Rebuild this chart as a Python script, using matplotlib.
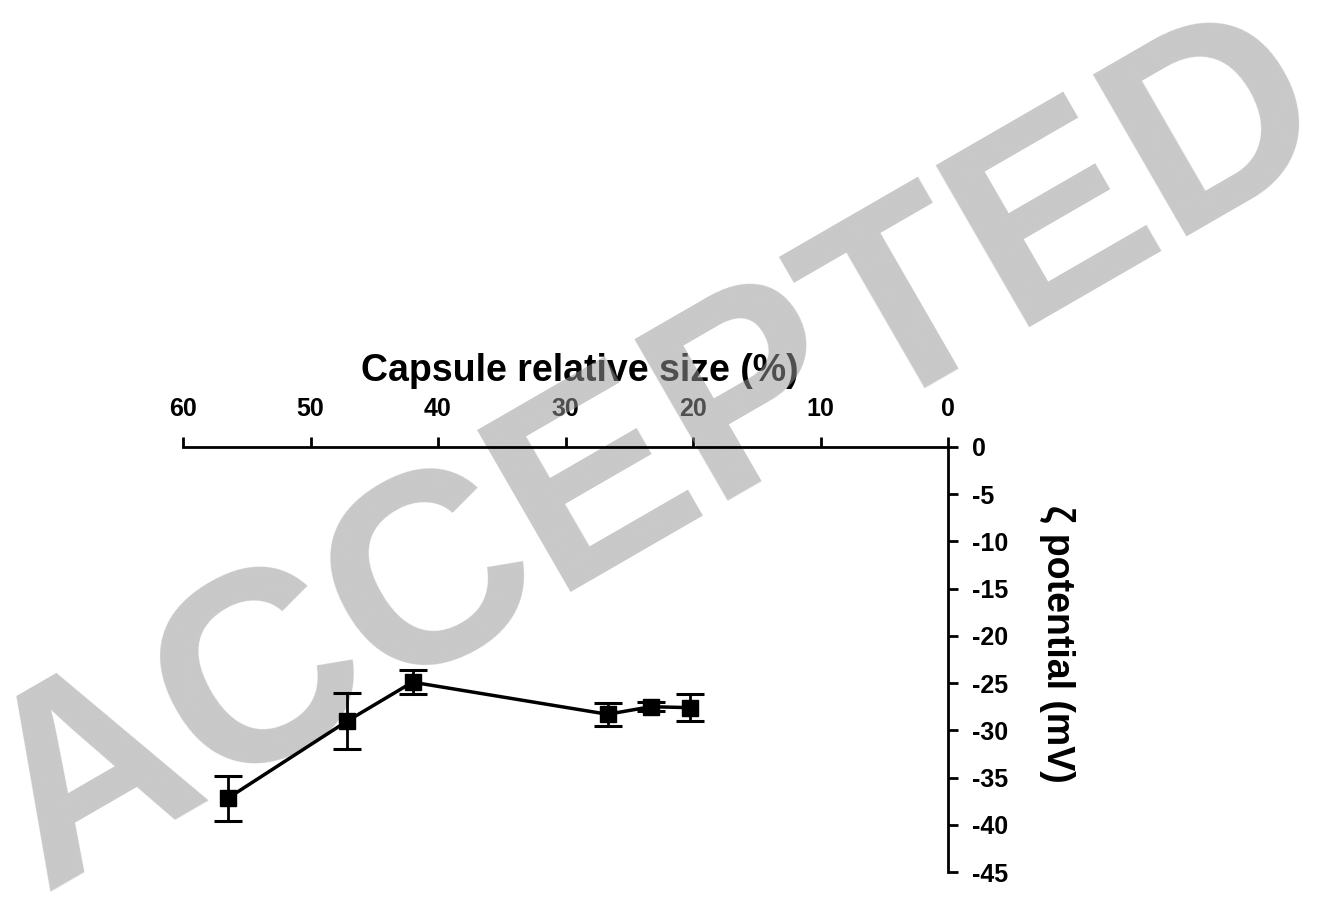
import matplotlib.pyplot as plt

plt.rcParams['font.family'] = ['Liberation Sans', 'DejaVu Sans']

# 数据
size_pct = [56.5, 47.1, 42.0, 26.7, 23.3, 20.2]
zeta_mv = [-37.2, -29.0, -24.9, -28.3, -27.5, -27.6]
zeta_err = [2.4, 3.0, 1.3, 1.2, 0.5, 1.4]

x_ticks = [60, 50, 40, 30, 20, 10, 0]
y_ticks = [0, -5, -10, -15, -20, -25, -30, -35, -40, -45]

W, H = 1322, 899
fig = plt.figure(figsize=(W / 100, H / 100), dpi=100)
ax = fig.add_axes([183 / W, 1 - 872 / H, (948 - 183) / W, (872 - 447) / H])

ax.errorbar(size_pct, zeta_mv, yerr=zeta_err, color='black', lw=2.5,
            marker='s', ms=12, capsize=10, elinewidth=2, capthick=2.2, zorder=3)

ax.set_xlim(60, 0)
ax.set_ylim(-45, 0)
ax.set_xticks(x_ticks)
ax.set_yticks(y_ticks)
ax.set_xticklabels([str(v) for v in x_ticks])
ax.set_yticklabels([str(v) for v in y_ticks])

# 坐标轴在上方和右侧
ax.spines['left'].set_visible(False)
ax.spines['bottom'].set_visible(False)
for s in ['top', 'right']:
    ax.spines[s].set_linewidth(2)
ax.xaxis.tick_top()
ax.yaxis.tick_right()
ax.xaxis.set_label_position('top')
ax.tick_params(axis='both', direction='out', length=7, width=2, labelsize=18)
ax.tick_params(axis='x', pad=12)
ax.tick_params(axis='y', pad=10)
for lab in ax.get_xticklabels() + ax.get_yticklabels():
    lab.set_fontweight('bold')
ax.xaxis.set_zorder(2)
ax.yaxis.set_zorder(2)

ax.set_xlabel('Capsule relative size (%)', fontsize=27, fontweight='bold', labelpad=11)
ax.xaxis.label.set_x((580 - 183) / (948 - 183))
fig.text(1057 / W, 1 - 644 / H, 'ζ potential (mV)', fontsize=27, fontweight='bold',
         rotation=-90, ha='center', va='center')

# 水印（在文字之上、曲线之下）
ax.text(44 / W, 1 - 892 / H, 'ACCEPTED', fontsize=196, fontweight='bold',
        color='#989898', alpha=0.53, rotation=30, rotation_mode='anchor',
        ha='left', va='baseline', transform=fig.transFigure, clip_on=False,
        zorder=2.2)

fig.savefig('out.png', dpi=100)
